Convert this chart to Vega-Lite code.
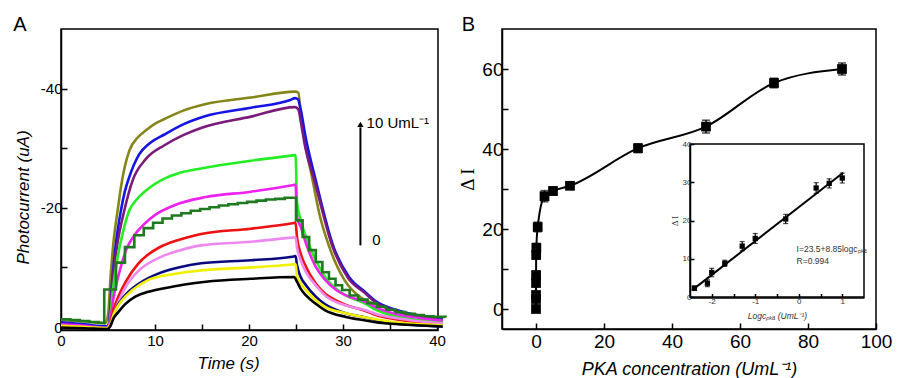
{
  "$schema": "https://vega.github.io/schema/vega-lite/v6.json",
  "background": "white",
  "padding": {"left": 12, "top": 14, "right": 2, "bottom": 2},
  "spacing": 6,
  "config": {
    "font": "Liberation Sans",
    "view": {"stroke": "black", "strokeWidth": 1.5},
    "axis": {
      "grid": false, "domainColor": "black", "domainWidth": 1.5, "tickColor": "black", "tickWidth": 1.5,
      "labelColor": "black", "titleColor": "black", "labelFont": "Liberation Sans", "titleFont": "Liberation Sans",
      "titleFontWeight": "normal", "labelFlush": false, "labelOverlap": false
    },
    "title": {"font": "Liberation Sans", "fontWeight": "normal", "fontSize": 20, "anchor": "start", "frame": "bounds", "offset": -6, "color": "black"}
  },
  "datasets": {
    "curves": [
      {"s":"olive","t":0,"v":-1.2},{"s":"olive","t":2.5,"v":-0.95},{"s":"olive","t":4.7,"v":-0.6},{"s":"olive","t":5.0,"v":-2},{"s":"olive","t":5.3,"v":-9},{"s":"olive","t":5.6,"v":-14.5},{"s":"olive","t":6.03,"v":-19.6},{"s":"olive","t":6.38,"v":-23.5},{"s":"olive","t":6.8,"v":-27},{"s":"olive","t":7.27,"v":-29.6},{"s":"olive","t":8.16,"v":-31.8},{"s":"olive","t":9.04,"v":-33.0},{"s":"olive","t":10.1,"v":-34.2},{"s":"olive","t":11.0,"v":-34.9},{"s":"olive","t":13,"v":-36.3},{"s":"olive","t":15.4,"v":-37.4},{"s":"olive","t":20.2,"v":-38.5},{"s":"olive","t":24.9,"v":-39.5},{"s":"olive","t":25.25,"v":-39.3},{"s":"olive","t":25.5,"v":-35.8},{"s":"olive","t":26.06,"v":-30.2},{"s":"olive","t":26.77,"v":-24.6},{"s":"olive","t":27.48,"v":-19.0},{"s":"olive","t":28.55,"v":-13.4},{"s":"olive","t":30.14,"v":-7.9},{"s":"olive","t":31.74,"v":-5.1},{"s":"olive","t":33.5,"v":-3.8},{"s":"olive","t":35.6,"v":-2.8},{"s":"olive","t":37.8,"v":-2.0},{"s":"olive","t":40.6,"v":-1.4},
      {"s":"blue","t":0,"v":-0.8},{"s":"blue","t":2.5,"v":-0.45},{"s":"blue","t":4.9,"v":-0.1},{"s":"blue","t":5.1,"v":-0.6},{"s":"blue","t":5.4,"v":-7},{"s":"blue","t":5.8,"v":-13.5},{"s":"blue","t":6.38,"v":-19.6},{"s":"blue","t":6.8,"v":-22.8},{"s":"blue","t":7.27,"v":-25.2},{"s":"blue","t":8.33,"v":-29.0},{"s":"blue","t":9.4,"v":-30.8},{"s":"blue","t":11.0,"v":-32.3},{"s":"blue","t":13,"v":-34},{"s":"blue","t":15.4,"v":-35.4},{"s":"blue","t":20.2,"v":-36.8},{"s":"blue","t":24.4,"v":-38.1},{"s":"blue","t":24.9,"v":-38.4},{"s":"blue","t":25.2,"v":-38.2},{"s":"blue","t":25.5,"v":-36.5},{"s":"blue","t":26.0,"v":-32},{"s":"blue","t":27.1,"v":-24.6},{"s":"blue","t":29.0,"v":-13.4},{"s":"blue","t":30.6,"v":-8.5},{"s":"blue","t":32.4,"v":-5.8},{"s":"blue","t":33.5,"v":-4.3},{"s":"blue","t":35.6,"v":-2.9},{"s":"blue","t":37.8,"v":-2.0},{"s":"blue","t":40.6,"v":-1.3},
      {"s":"purple","t":0,"v":-0.4},{"s":"purple","t":2.5,"v":-0.2},{"s":"purple","t":4.9,"v":0.15},{"s":"purple","t":5.15,"v":-0.5},{"s":"purple","t":5.5,"v":-8},{"s":"purple","t":6.0,"v":-14},{"s":"purple","t":6.74,"v":-19.6},{"s":"purple","t":7.62,"v":-24.6},{"s":"purple","t":9.04,"v":-28.2},{"s":"purple","t":11.0,"v":-30.5},{"s":"purple","t":13,"v":-32.2},{"s":"purple","t":14.9,"v":-33.4},{"s":"purple","t":20.2,"v":-35.3},{"s":"purple","t":24.9,"v":-36.9},{"s":"purple","t":25.25,"v":-36.5},{"s":"purple","t":25.5,"v":-34.5},{"s":"purple","t":26.0,"v":-30},{"s":"purple","t":26.95,"v":-24.6},{"s":"purple","t":28.9,"v":-13.4},{"s":"purple","t":30.5,"v":-8.3},{"s":"purple","t":32.4,"v":-5.6},{"s":"purple","t":33.5,"v":-4.1},{"s":"purple","t":35.6,"v":-2.7},{"s":"purple","t":37.8,"v":-1.8},{"s":"purple","t":40.6,"v":-1.1},
      {"s":"green","t":0,"v":-0.3},{"s":"green","t":2.5,"v":-0.1},{"s":"green","t":4.9,"v":0.15},{"s":"green","t":5.15,"v":-0.5},{"s":"green","t":5.5,"v":-6},{"s":"green","t":6.0,"v":-11.5},{"s":"green","t":6.6,"v":-16},{"s":"green","t":7.27,"v":-19.6},{"s":"green","t":8.0,"v":-21.3},{"s":"green","t":9.04,"v":-22.9},{"s":"green","t":11.0,"v":-24.9},{"s":"green","t":12.5,"v":-25.8},{"s":"green","t":14.9,"v":-26.6},{"s":"green","t":20.2,"v":-27.9},{"s":"green","t":24.7,"v":-28.8},{"s":"green","t":24.95,"v":-28.85},{"s":"green","t":25.1,"v":-21},{"s":"green","t":25.5,"v":-17.9},{"s":"green","t":26.06,"v":-15.1},{"s":"green","t":27.1,"v":-11.2},{"s":"green","t":28.1,"v":-8.4},{"s":"green","t":29.2,"v":-6.5},{"s":"green","t":30.3,"v":-5.3},{"s":"green","t":32.4,"v":-3.9},{"s":"green","t":33.5,"v":-2.9},{"s":"green","t":35.6,"v":-1.8},{"s":"green","t":37.8,"v":-1.2},{"s":"green","t":40.6,"v":-0.9},
      {"s":"magenta","t":0,"v":-0.45},{"s":"magenta","t":2.5,"v":-0.2},{"s":"magenta","t":4.9,"v":0.15},{"s":"magenta","t":5.15,"v":-0.5},{"s":"magenta","t":5.6,"v":-5},{"s":"magenta","t":6.0,"v":-7.9},{"s":"magenta","t":6.4,"v":-10.3},{"s":"magenta","t":7.0,"v":-13.2},{"s":"magenta","t":8.0,"v":-15.8},{"s":"magenta","t":9.0,"v":-17.5},{"s":"magenta","t":10.1,"v":-18.9},{"s":"magenta","t":12,"v":-20.4},{"s":"magenta","t":15.4,"v":-21.8},{"s":"magenta","t":20.2,"v":-22.7},{"s":"magenta","t":24.6,"v":-23.8},{"s":"magenta","t":24.95,"v":-23.9},{"s":"magenta","t":25.1,"v":-18.5},{"s":"magenta","t":25.5,"v":-16.8},{"s":"magenta","t":26.06,"v":-14},{"s":"magenta","t":27.1,"v":-10.1},{"s":"magenta","t":28.1,"v":-7.9},{"s":"magenta","t":29.2,"v":-6.3},{"s":"magenta","t":30.3,"v":-5.3},{"s":"magenta","t":32.4,"v":-4.2},{"s":"magenta","t":33.5,"v":-3.3},{"s":"magenta","t":35.6,"v":-2.2},{"s":"magenta","t":37.8,"v":-1.6},{"s":"magenta","t":40.6,"v":-1.1},
      {"s":"red","t":0,"v":-0.2},{"s":"red","t":2.5,"v":0},{"s":"red","t":4.9,"v":0.25},{"s":"red","t":5.2,"v":-0.3},{"s":"red","t":5.6,"v":-3},{"s":"red","t":6.1,"v":-5.1},{"s":"red","t":7.0,"v":-7.9},{"s":"red","t":8.2,"v":-10.6},{"s":"red","t":9.3,"v":-12.2},{"s":"red","t":10.4,"v":-13.3},{"s":"red","t":12.5,"v":-14.6},{"s":"red","t":14.9,"v":-15.6},{"s":"red","t":20.2,"v":-16.5},{"s":"red","t":24.6,"v":-17.4},{"s":"red","t":24.95,"v":-17.5},{"s":"red","t":25.1,"v":-15.1},{"s":"red","t":25.5,"v":-12.3},{"s":"red","t":26.06,"v":-10.1},{"s":"red","t":27.1,"v":-7.3},{"s":"red","t":28.1,"v":-5.6},{"s":"red","t":29.2,"v":-4.5},{"s":"red","t":30.3,"v":-3.7},{"s":"red","t":32.4,"v":-2.7},{"s":"red","t":33.5,"v":-2.0},{"s":"red","t":35.6,"v":-1.3},{"s":"red","t":37.8,"v":-0.8},{"s":"red","t":40.6,"v":-0.4},
      {"s":"violet","t":0,"v":-0.2},{"s":"violet","t":2.5,"v":0},{"s":"violet","t":4.9,"v":0.25},{"s":"violet","t":5.2,"v":-0.3},{"s":"violet","t":5.9,"v":-3.4},{"s":"violet","t":6.9,"v":-6.8},{"s":"violet","t":8.3,"v":-9.5},{"s":"violet","t":10.4,"v":-11.6},{"s":"violet","t":12.5,"v":-12.8},{"s":"violet","t":14.9,"v":-13.7},{"s":"violet","t":20.2,"v":-14.3},{"s":"violet","t":24.6,"v":-15.0},{"s":"violet","t":24.95,"v":-15.05},{"s":"violet","t":25.1,"v":-13.4},{"s":"violet","t":25.5,"v":-11.2},{"s":"violet","t":26.06,"v":-9.2},{"s":"violet","t":27.1,"v":-7.0},{"s":"violet","t":28.1,"v":-5.3},{"s":"violet","t":30.3,"v":-3.6},{"s":"violet","t":32.4,"v":-2.8},{"s":"violet","t":33.5,"v":-2.2},{"s":"violet","t":35.6,"v":-1.5},{"s":"violet","t":37.8,"v":-1.0},{"s":"violet","t":40.6,"v":-0.6},
      {"s":"navy","t":0,"v":0},{"s":"navy","t":2.5,"v":0.1},{"s":"navy","t":4.9,"v":0.3},{"s":"navy","t":5.2,"v":-0.2},{"s":"navy","t":5.8,"v":-2.9},{"s":"navy","t":6.7,"v":-5.1},{"s":"navy","t":8.3,"v":-7.3},{"s":"navy","t":10.4,"v":-9.0},{"s":"navy","t":12.5,"v":-10.0},{"s":"navy","t":14.9,"v":-10.7},{"s":"navy","t":20.2,"v":-11.2},{"s":"navy","t":24.6,"v":-11.8},{"s":"navy","t":24.95,"v":-11.9},{"s":"navy","t":25.1,"v":-10.4},{"s":"navy","t":25.5,"v":-8.4},{"s":"navy","t":26.06,"v":-7.0},{"s":"navy","t":27.1,"v":-5.1},{"s":"navy","t":28.1,"v":-3.8},{"s":"navy","t":30.3,"v":-2.3},{"s":"navy","t":32.4,"v":-1.6},{"s":"navy","t":33.5,"v":-1.2},{"s":"navy","t":35.6,"v":-0.6},{"s":"navy","t":37.8,"v":-0.3},{"s":"navy","t":40.6,"v":-0.1},
      {"s":"yellow","t":0,"v":-0.2},{"s":"yellow","t":2.5,"v":0},{"s":"yellow","t":4.9,"v":0.2},{"s":"yellow","t":5.2,"v":-0.3},{"s":"yellow","t":5.7,"v":-2.5},{"s":"yellow","t":6.5,"v":-4.5},{"s":"yellow","t":7.6,"v":-6.2},{"s":"yellow","t":9.3,"v":-7.9},{"s":"yellow","t":12,"v":-8.9},{"s":"yellow","t":14.9,"v":-9.5},{"s":"yellow","t":20.2,"v":-10.0},{"s":"yellow","t":24.6,"v":-10.5},{"s":"yellow","t":24.95,"v":-10.55},{"s":"yellow","t":25.1,"v":-8.6},{"s":"yellow","t":25.5,"v":-7.3},{"s":"yellow","t":26.06,"v":-6.2},{"s":"yellow","t":27.1,"v":-4.5},{"s":"yellow","t":28.1,"v":-3.4},{"s":"yellow","t":30.3,"v":-2.3},{"s":"yellow","t":32.4,"v":-1.6},{"s":"yellow","t":35.6,"v":-0.8},{"s":"yellow","t":37.8,"v":-0.5},{"s":"yellow","t":40.6,"v":-0.3},
      {"s":"black","t":0,"v":0.1},{"s":"black","t":2.5,"v":0.2},{"s":"black","t":4.9,"v":0.35},{"s":"black","t":5.2,"v":0},{"s":"black","t":5.6,"v":-1.5},{"s":"black","t":6.1,"v":-2.5},{"s":"black","t":6.8,"v":-3.8},{"s":"black","t":7.9,"v":-5.1},{"s":"black","t":9.3,"v":-5.9},{"s":"black","t":11,"v":-6.5},{"s":"black","t":13,"v":-7.1},{"s":"black","t":15.4,"v":-7.6},{"s":"black","t":20.2,"v":-8.1},{"s":"black","t":24.8,"v":-8.4},{"s":"black","t":25.1,"v":-7.6},{"s":"black","t":25.5,"v":-6.4},{"s":"black","t":26.06,"v":-5.3},{"s":"black","t":27.1,"v":-3.9},{"s":"black","t":28.1,"v":-2.8},{"s":"black","t":30.3,"v":-1.7},{"s":"black","t":32.4,"v":-1.1},{"s":"black","t":33.5,"v":-0.8},{"s":"black","t":35.6,"v":-0.5},{"s":"black","t":37.8,"v":-0.3},{"s":"black","t":40.6,"v":-0.1}
    ],
    "dkgreen": [
      {"t":0,"v":-1.3},{"t":1,"v":-1.15},{"t":2,"v":-1.0},{"t":3,"v":-0.85},{"t":4,"v":-0.7},{"t":4.6,"v":-6.3},{"t":5.85,"v":-10.8},{"t":6.8,"v":-13.4},{"t":7.8,"v":-15.4},{"t":8.8,"v":-16.6},{"t":9.8,"v":-17.5},{"t":10.8,"v":-18.2},{"t":11.8,"v":-18.7},{"t":12.8,"v":-19.1},{"t":13.8,"v":-19.5},{"t":14.8,"v":-19.8},{"t":15.8,"v":-20.1},{"t":16.8,"v":-20.4},{"t":17.8,"v":-20.6},{"t":18.8,"v":-20.8},{"t":19.8,"v":-21.0},{"t":20.8,"v":-21.2},{"t":21.8,"v":-21.4},{"t":22.8,"v":-21.5},{"t":23.8,"v":-21.7},{"t":25.0,"v":-17.9},{"t":25.7,"v":-15.1},{"t":26.4,"v":-12.9},{"t":27.1,"v":-10.9},{"t":27.8,"v":-9.2},{"t":28.5,"v":-8.1},{"t":29.2,"v":-7.0},{"t":29.9,"v":-6.2},{"t":30.7,"v":-5.3},{"t":31.6,"v":-4.6},{"t":32.6,"v":-4.0},{"t":33.6,"v":-3.4},{"t":34.6,"v":-2.9},{"t":35.6,"v":-2.5},{"t":36.6,"v":-2.2},{"t":37.6,"v":-2.0},{"t":38.6,"v":-1.8},{"t":39.6,"v":-1.7},{"t":40.9,"v":-1.6}
    ],
    "main": [
      {"c":0,"d":0,"lo":-0.8,"hi":0.8},{"c":0.004,"d":2.5,"lo":1.7,"hi":3.3},{"c":0.008,"d":3.5,"lo":2.6,"hi":4.4},{"c":0.01,"d":6.5,"lo":5.6,"hi":7.4},{"c":0.02,"d":8.5,"lo":7.7,"hi":9.3},{"c":0.05,"d":13.5,"lo":12.5,"hi":14.5},{"c":0.1,"d":15.3,"lo":14.2,"hi":16.4},{"c":0.5,"d":20.5,"lo":19.3,"hi":21.7},{"c":2.5,"d":28.2,"lo":26.8,"hi":29.6},{"c":5,"d":29.5,"lo":28.5,"hi":30.5},{"c":10,"d":30.8,"lo":30.0,"hi":31.6},{"c":30,"d":40.2,"lo":39.1,"hi":41.3},{"c":50,"d":45.6,"lo":44.0,"hi":47.2},{"c":70,"d":56.5,"lo":55.3,"hi":57.7},{"c":90,"d":60.0,"lo":58.5,"hi":61.5}
    ],
    "inset": [
      {"lc":-2.4,"d":2.3,"lo":1.7,"hi":2.9},{"lc":-2.1,"d":3.6,"lo":2.7,"hi":4.5},{"lc":-2.0,"d":6.4,"lo":5.3,"hi":7.5},{"lc":-1.7,"d":8.8,"lo":8.0,"hi":9.6},{"lc":-1.3,"d":13.3,"lo":12.1,"hi":14.5},{"lc":-1.0,"d":15.3,"lo":14.0,"hi":16.6},{"lc":-0.3,"d":20.4,"lo":19.2,"hi":21.6},{"lc":0.4,"d":28.5,"lo":27.1,"hi":29.9},{"lc":0.7,"d":29.7,"lo":28.5,"hi":30.9},{"lc":1.0,"d":31.1,"lo":29.8,"hi":32.4}
    ],
    "fit": [{"lc":-2.45,"d":1.8},{"lc":1.02,"d":32.5}]
  },
  "hconcat": [
    {
      "width": 377, "height": 301,
      "title": {"text": "A", "dx": -1},
      "layer": [
        {
          "data": {"name": "curves"},
          "mark": {"type": "line", "interpolate": "monotone", "strokeWidth": 2.6, "clip": false},
          "encoding": {
            "x": {"field": "t", "type": "quantitative", "scale": {"domain": [0, 40.1], "nice": false, "zero": false},
              "axis": {"values": [0,5,10,15,20,25,30,35,40], "labelExpr": "datum.value % 10 === 0 ? datum.label : ''", "tickSize": -6, "labelPadding": 9, "labelFontSize": 15, "title": "Time (s)", "titleFontSize": 17, "titleFontStyle": "italic", "titlePadding": 7, "titleX": 167}},
            "y": {"field": "v", "type": "quantitative", "scale": {"domain": [0.5, -50], "nice": false, "zero": false},
              "axis": {"values": [0,-10,-20,-30,-40], "labelExpr": "datum.value === 0 ? '0' : (datum.value % 20 === 0 ? '-' + abs(datum.value) : '')", "tickSize": -6, "labelPadding": 5, "labelFontSize": 15, "title": "Photocurrent (uA)", "titleFontSize": 17, "titleFontStyle": "italic", "titlePadding": 8, "titleY": 168}},
            "color": {"field": "s", "type": "nominal", "legend": null,
              "scale": {"domain": ["olive","blue","purple","green","magenta","red","violet","navy","yellow","black"],
                        "range": ["#858519","#1414e6","#7a1a7a","#22ee22","#ee22ee","#ee1111","#ee88ee","#0a0a80","#f0f000","#000000"]}}
          }
        },
        {
          "data": {"name": "dkgreen"},
          "mark": {"type": "line", "interpolate": "step-after", "strokeWidth": 2.6, "color": "#1e7a1e", "clip": false},
          "encoding": {"x": {"field": "t", "type": "quantitative"}, "y": {"field": "v", "type": "quantitative"}}
        },
        {
          "data": {"values": [{}]},
          "mark": {"type": "rule", "strokeWidth": 2, "color": "black"},
          "encoding": {"x": {"datum": 31.85, "type": "quantitative"}, "y": {"datum": -13.7, "type": "quantitative"}, "y2": {"datum": -33.5}}
        },
        {
          "data": {"values": [{}]},
          "mark": {"type": "point", "shape": "triangle-up", "filled": true, "size": 40, "color": "black", "opacity": 1},
          "encoding": {"x": {"datum": 31.85, "type": "quantitative"}, "y": {"datum": -34.0, "type": "quantitative"}}
        },
        {
          "data": {"values": [{}]},
          "mark": {"type": "text", "align": "left", "baseline": "middle", "fontSize": 15, "color": "black", "text": "10 UmL⁻¹"},
          "encoding": {"x": {"datum": 32.5, "type": "quantitative"}, "y": {"datum": -34.2, "type": "quantitative"}}
        },
        {
          "data": {"values": [{}]},
          "mark": {"type": "text", "align": "left", "baseline": "middle", "fontSize": 15, "color": "black", "text": "0"},
          "encoding": {"x": {"datum": 33.1, "type": "quantitative"}, "y": {"datum": -14.6, "type": "quantitative"}}
        }
      ]
    },
    {
      "width": 374, "height": 300,
      "title": {"text": "B", "dx": 3},
      "resolve": {"scale": {"x": "independent", "y": "independent"}, "axis": {"x": "independent", "y": "independent"}},
      "layer": [
        {
          "data": {"name": "main"},
          "layer": [
            {
              "mark": {"type": "line", "interpolate": "monotone", "color": "black", "strokeWidth": 2},
              "encoding": {
                "x": {"field": "c", "type": "quantitative", "title": "PKA concentration (UmL⁻¹)", "scale": {"domain": [-10, 100], "nice": false, "zero": false},
                  "axis": {"orient": "bottom", "values": [0,10,20,30,40,50,60,70,80,90,100], "labelExpr": "datum.value % 20 === 0 ? datum.label : ''", "tickSize": -6, "labelPadding": 9, "labelFontSize": 19, "titleFontSize": 18, "titleFontStyle": "italic", "titlePadding": 9}},
                "y": {"field": "d", "type": "quantitative", "title": "Δ I", "scale": {"domain": [-5, 70], "nice": false, "zero": false},
                  "axis": {"orient": "left", "values": [0,10,20,30,40,50,60], "labelExpr": "datum.value % 20 === 0 ? datum.label : ''", "tickSize": -6, "labelPadding": 5, "labelFontSize": 19, "titleFont": "Liberation Serif", "titleFontSize": 19, "titlePadding": 4}}
              }
            },
            {
              "mark": {"type": "errorbar", "ticks": {"size": 8}, "color": "black", "thickness": 1.5},
              "encoding": {"x": {"field": "c", "type": "quantitative", "title": "PKA concentration (UmL⁻¹)"}, "y": {"field": "lo", "type": "quantitative", "title": "Δ I"}, "y2": {"field": "hi"}}
            },
            {
              "mark": {"type": "point", "shape": "square", "filled": true, "size": 95, "color": "black", "opacity": 1},
              "encoding": {"x": {"field": "c", "type": "quantitative", "title": "PKA concentration (UmL⁻¹)"}, "y": {"field": "d", "type": "quantitative", "title": "Δ I"}}
            }
          ]
        },
        {
          "layer": [
            {
              "data": {"values": [{}]},
              "mark": {"type": "rect", "fill": "white", "stroke": "black", "strokeWidth": 1.5},
              "encoding": {
                "x": {"datum": -2.5, "type": "quantitative", "title": "Logcₚₖₐ (UmL⁻¹)", "scale": {"domain": [-2.5, 1.5], "range": [188, 362], "nice": false, "zero": false},
                  "axis": {"orient": "bottom", "offset": -31.5, "zindex": 2, "values": [-2,-1.5,-1,-0.5,0,0.5,1], "labelExpr": "datum.value % 1 === 0 ? '' + datum.value : ''", "tickSize": -4, "labelPadding": 4, "labelFontSize": 8, "labelColor": "#333", "titleFontSize": 8.5, "titleFontStyle": "italic", "titleColor": "#333", "titlePadding": 6}},
                "x2": {"datum": 1.5},
                "y": {"datum": 0, "type": "quantitative", "title": "Δ I", "scale": {"domain": [0, 40], "range": [268, 115], "nice": false, "zero": false},
                  "axis": {"orient": "left", "offset": -188, "zindex": 2, "values": [0,5,10,15,20,25,30,35,40], "labelExpr": "datum.value % 10 === 0 ? '' + datum.value : ''", "tickSize": -4, "labelPadding": 3, "labelFontSize": 8, "labelColor": "#333", "titleFont": "Liberation Serif", "titleFontSize": 8.5, "titleColor": "#333", "titlePadding": 3}},
                "y2": {"datum": 40}
              }
            },
            {
              "data": {"name": "fit"},
              "mark": {"type": "line", "color": "black", "strokeWidth": 2},
              "encoding": {"x": {"field": "lc", "type": "quantitative", "title": "Logcₚₖₐ (UmL⁻¹)"}, "y": {"field": "d", "type": "quantitative", "title": "Δ I"}}
            },
            {
              "data": {"name": "inset"},
              "mark": {"type": "errorbar", "ticks": {"size": 5}, "color": "black", "thickness": 1.2},
              "encoding": {"x": {"field": "lc", "type": "quantitative", "title": "Logcₚₖₐ (UmL⁻¹)"}, "y": {"field": "lo", "type": "quantitative", "title": "Δ I"}, "y2": {"field": "hi"}}
            },
            {
              "data": {"name": "inset"},
              "mark": {"type": "point", "shape": "square", "filled": true, "size": 28, "color": "black", "opacity": 1},
              "encoding": {"x": {"field": "lc", "type": "quantitative", "title": "Logcₚₖₐ (UmL⁻¹)"}, "y": {"field": "d", "type": "quantitative", "title": "Δ I"}}
            },
            {
              "data": {"values": [{}]},
              "mark": {"type": "text", "align": "left", "baseline": "middle", "fontSize": 8.5, "color": "#333", "text": "I=23.5+8.85logcₚₖₐ"},
              "encoding": {"x": {"datum": -0.05, "type": "quantitative"}, "y": {"datum": 12.6, "type": "quantitative"}}
            },
            {
              "data": {"values": [{}]},
              "mark": {"type": "text", "align": "left", "baseline": "middle", "fontSize": 8.5, "color": "#333", "text": "R=0.994"},
              "encoding": {"x": {"datum": -0.05, "type": "quantitative"}, "y": {"datum": 9.4, "type": "quantitative"}}
            }
          ]
        }
      ]
    }
  ]
}
